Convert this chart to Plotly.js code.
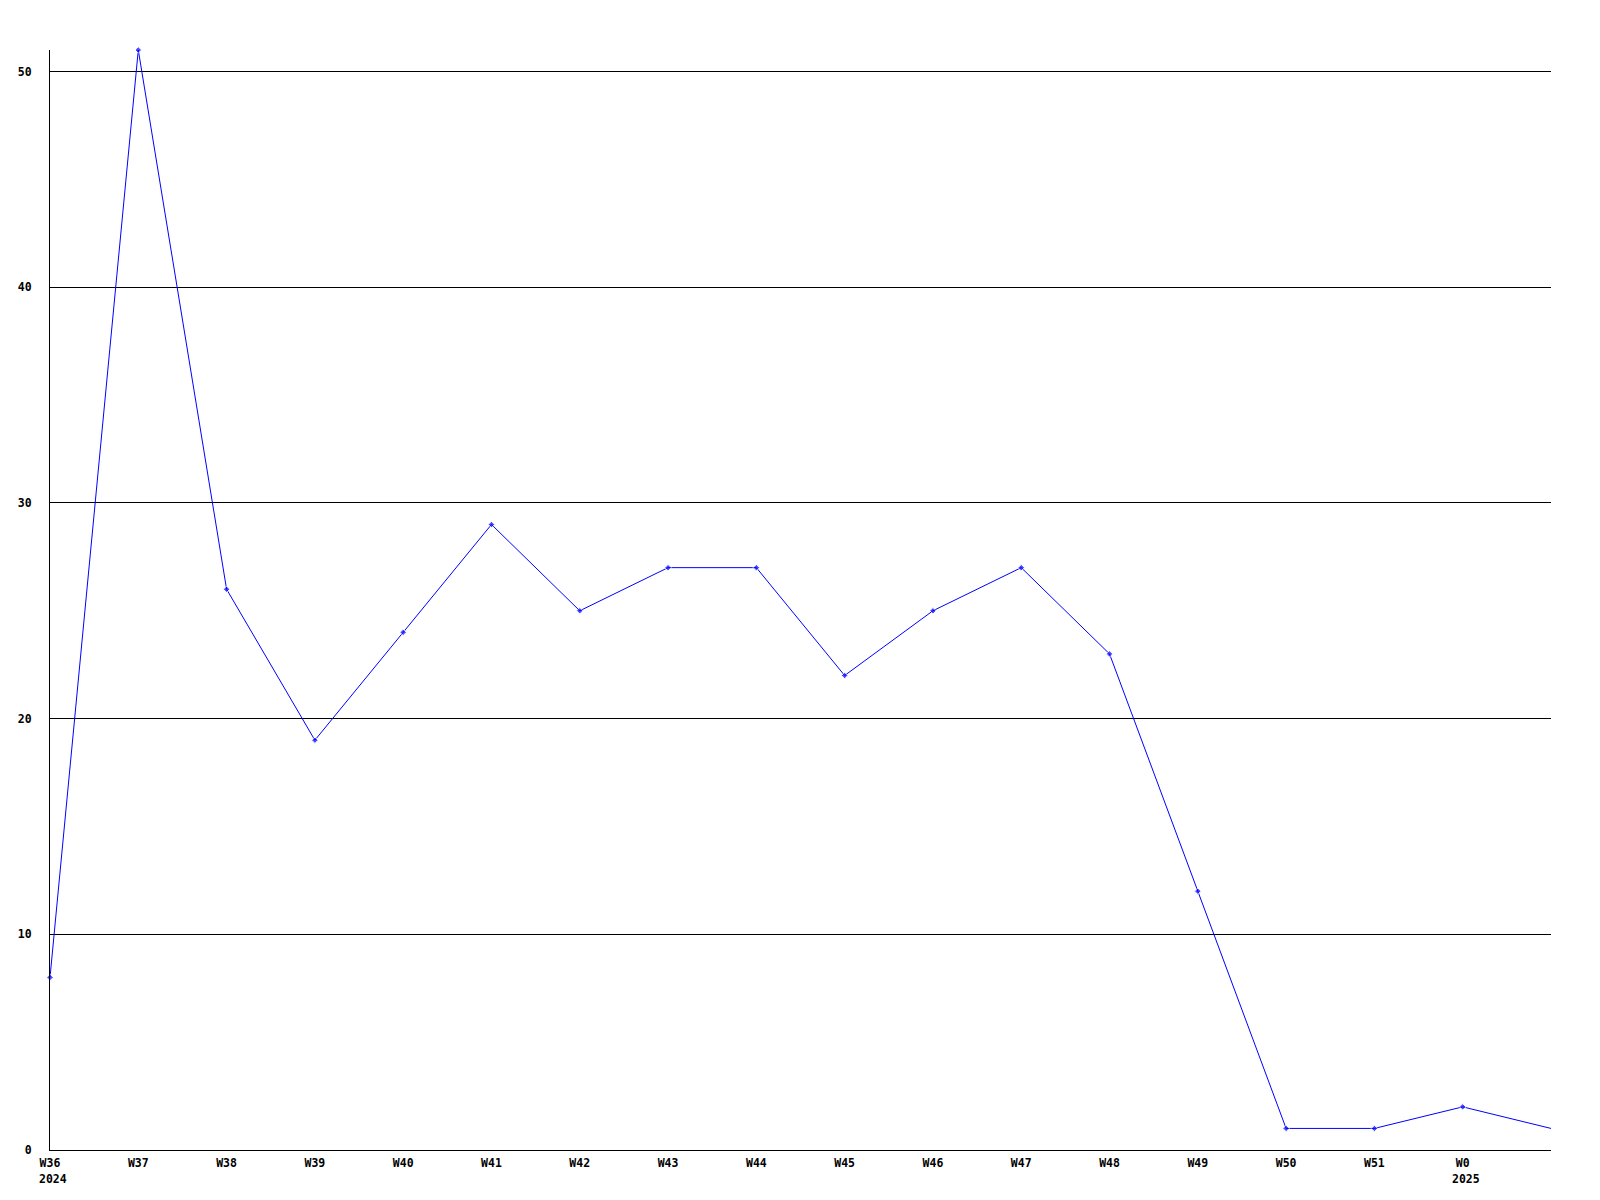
<!DOCTYPE html>
<html>
<head>
<meta charset="utf-8">
<script src="https://cdn.plot.ly/plotly-3.0.1.min.js"></script>
<style>html,body{margin:0;padding:0;background:#fff;}#chart{width:1600px;height:1200px;}</style>
</head>
<body>
<div id="chart"></div>
<script>
const weekIndex = [0,1,2,3,4,5,6,7,8,9,10,11,12,13,14,15,16,17];
const counts = [8,51,26,19,24,29,25,27,27,22,25,27,23,12,1,1,2,1];
const tickPositions = [0,1,2,3,4,5,6,7,8,9,10,11,12,13,14,15,16];
const tickLabels = ["W36","W37","W38","W39","W40","W41","W42","W43","W44","W45","W46","W47","W48","W49","W50","W51","W0"];
const yearPositions = [0,16];
const yearLabels = ["2024","2025"];
const yTicks = [0,10,20,30,40,50];

const font = {family: "DejaVu Sans Mono", size: 11.5, color: "#000"};

// the last (open-ended) point has no marker in the original
const markerSizes = counts.map((_, i) => (i === counts.length - 1 ? 0 : 5));

const trace = {
  x: weekIndex, y: counts, type: "scatter", mode: "lines+markers",
  line: {color: "#0000ff", width: 1},
  marker: {color: "#0000ff", size: markerSizes, symbol: "diamond"},
  cliponaxis: false,
  hoverinfo: "skip", showlegend: false
};

const annotations = yearPositions.map((p, i) => ({
  x: p, y: 0, xref: "x", yref: "paper", text: "<b>" + yearLabels[i] + "</b>",
  showarrow: false, xanchor: "left", yanchor: "top", xshift: -13, yshift: -20,
  font: font
}));

const layout = {
  width: 1600, height: 1200,
  margin: {l: 50, r: 49, t: 50, b: 50},
  paper_bgcolor: "#fff", plot_bgcolor: "#fff",
  font: font,
  xaxis: {
    range: [0, 17], tickmode: "array", tickvals: tickPositions,
    ticktext: tickLabels.map(t => "<b>" + t + "</b>"),
    showgrid: false, zeroline: false, showline: true, linecolor: "#000", linewidth: 1,
    ticks: "", ticklabelstandoff: 2, tickfont: font, fixedrange: true
  },
  yaxis: {
    range: [0, 51], tickmode: "array", tickvals: yTicks,
    ticktext: yTicks.map(t => "<b>" + t + "</b>"),
    showgrid: true, gridcolor: "#000", gridwidth: 1, zeroline: false,
    showline: true, linecolor: "#000", linewidth: 1,
    ticks: "", ticklabelstandoff: 15, tickfont: font, fixedrange: true
  },
  annotations: annotations
};

Plotly.newPlot("chart", [trace], layout, {staticPlot: true, displayModeBar: false});
</script>
</body>
</html>
